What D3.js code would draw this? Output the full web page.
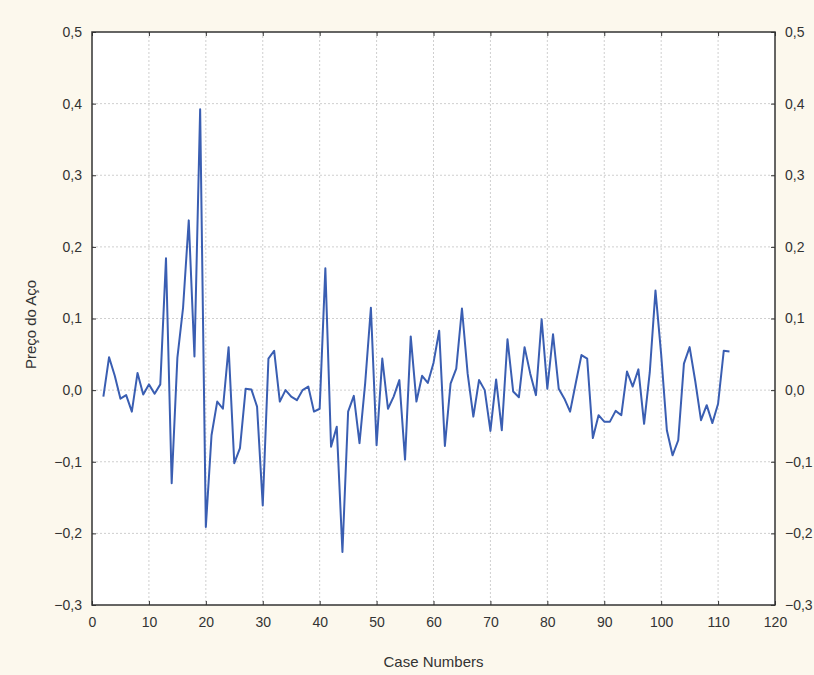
<!DOCTYPE html>
<html>
<head>
<meta charset="utf-8">
<script src="https://cdn.jsdelivr.net/npm/d3@7"></script>
<style>
  html, body { margin: 0; padding: 0; background: #fcf8ed; }
  svg { display: block; font-family: "Liberation Sans", Arial, sans-serif; }
</style>
</head>
<body>
<div class="chart"></div>
<script>
// numero del caso (2..112)
const cases = d3.range(2, 113);

// Preço do Aço
const values = [
  -0.009, 0.046, 0.020, -0.012, -0.007, -0.030, 0.024, -0.006, 0.008, -0.005,
  0.008, 0.184, -0.130, 0.045, 0.115, 0.237, 0.047, 0.392, -0.191, -0.063,
  -0.016, -0.026, 0.060, -0.102, -0.081, 0.002, 0.001, -0.023, -0.161, 0.044,
  0.055, -0.016, 0.000, -0.009, -0.014, 0.000, 0.005, -0.030, -0.026, 0.170,
  -0.079, -0.051, -0.226, -0.030, -0.008, -0.074, 0.010, 0.115, -0.077, 0.044,
  -0.026, -0.009, 0.014, -0.097, 0.075, -0.016, 0.020, 0.010, 0.038, 0.083,
  -0.078, 0.009, 0.030, 0.114, 0.023, -0.037, 0.014, 0.000, -0.057, 0.015,
  -0.056, 0.071, -0.002, -0.010, 0.060, 0.023, -0.007, 0.099, 0.002, 0.078,
  0.002, -0.012, -0.030, 0.010, 0.049, 0.044, -0.067, -0.035, -0.044, -0.044,
  -0.029, -0.035, 0.026, 0.005, 0.029, -0.047, 0.025, 0.139, 0.050, -0.056,
  -0.091, -0.070, 0.037, 0.060, 0.012, -0.042, -0.021, -0.046, -0.019, 0.055,
  0.054
];

const xTicks = d3.range(0, 121, 10);
const yTicks = [-0.3, -0.2, -0.1, 0.0, 0.1, 0.2, 0.3, 0.4, 0.5];

const margin = { top: 32, right: 39, bottom: 70, left: 92 };
const W = 814, H = 675;
const width = W - margin.left - margin.right;
const height = H - margin.top - margin.bottom;

const data = cases.map((c, i) => ({ c: c, v: values[i] }));
const fmt = d => d3.format(".1f")(d).replace(".", ",").replace("-", "-");

const svg = d3.select(".chart")
    .append("svg")
    .attr("width", W)
    .attr("height", H);

const g = svg.append("g")
    .attr("transform", `translate(${margin.left},${margin.top})`);

const x = d3.scaleLinear().domain([0, 120]).range([0, width]);
const y = d3.scaleLinear().domain([-0.3, 0.5]).range([height, 0]);

// area del grafico
g.append("rect")
    .attr("width", width)
    .attr("height", height)
    .attr("fill", "#fff");

// griglia tratteggiata
g.append("g").selectAll("line")
    .data(xTicks.slice(1, -1))
    .join("line")
    .attr("x1", d => x(d)).attr("x2", d => x(d))
    .attr("y1", 0).attr("y2", height)
    .attr("stroke", "#cfcfcf")
    .attr("stroke-dasharray", "2,2");

g.append("g").selectAll("line")
    .data(yTicks.slice(1, -1))
    .join("line")
    .attr("y1", d => y(d)).attr("y2", d => y(d))
    .attr("x1", 0).attr("x2", width)
    .attr("stroke", "#cfcfcf")
    .attr("stroke-dasharray", "2,2");

// assi (tacche verso l'interno)
const axisStyle = sel => {
    sel.select(".domain").remove();
    sel.selectAll(".tick line").attr("stroke", "#333");
    sel.selectAll(".tick text").attr("fill", "#333").style("font-size", "14px");
};

g.append("g")
    .attr("transform", `translate(0,${height})`)
    .call(d3.axisBottom(x).tickValues(xTicks).tickSize(-4).tickPadding(12))
    .call(axisStyle);

g.append("g")
    .call(d3.axisTop(x).tickValues(xTicks).tickSize(-4).tickFormat(""))
    .call(axisStyle);

g.append("g")
    .call(d3.axisLeft(y).tickValues(yTicks).tickSize(-4).tickFormat(fmt).tickPadding(10))
    .call(axisStyle);

g.append("g")
    .attr("transform", `translate(${width},0)`)
    .call(d3.axisRight(y).tickValues(yTicks).tickSize(-4).tickFormat(fmt).tickPadding(10))
    .call(axisStyle);

// bordo
g.append("rect")
    .attr("width", width)
    .attr("height", height)
    .attr("fill", "none")
    .attr("stroke", "#333")
    .attr("stroke-width", 1.5);

// la serie
const line = d3.line()
    .x(d => x(d.c))
    .y(d => y(d.v));

g.append("path")
    .datum(data)
    .attr("d", line)
    .attr("fill", "none")
    .attr("stroke", "#3a5eb2")
    .attr("stroke-width", 2)
    .attr("stroke-linejoin", "round");

// titoli degli assi
svg.append("text")
    .attr("x", margin.left + width / 2)
    .attr("y", 667)
    .attr("text-anchor", "middle")
    .attr("fill", "#333")
    .style("font-size", "15px")
    .text("Case Numbers");

svg.append("text")
    .attr("transform", `translate(36,${margin.top + height / 2 + 6}) rotate(-90)`)
    .attr("text-anchor", "middle")
    .attr("fill", "#333")
    .style("font-size", "15px")
    .text("Preço do Aço");
</script>
</body>
</html>
